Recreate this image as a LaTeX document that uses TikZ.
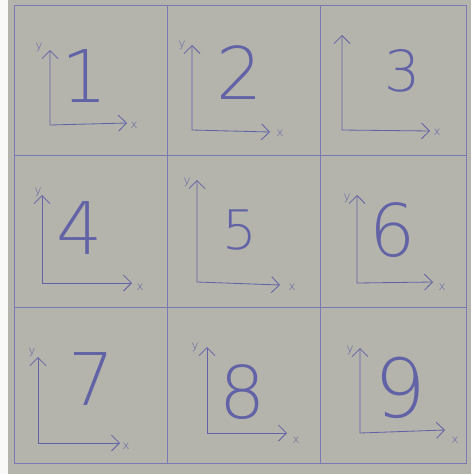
\documentclass[tikz,border=0pt]{standalone}
\usepackage{fontspec}
\usetikzlibrary{arrows.meta}
\newfontfamily\handfont{DejaVu Sans ExtraLight}
\definecolor{board}{RGB}{180,180,172}
\definecolor{ink}{RGB}{98,98,166}

\begin{document}
\begin{tikzpicture}[
    x=0.03cm, y=-0.03cm,
    gridline/.style={draw=ink!85, line width=0.6pt},
    axis/.style={{Straight Barb[length=2.4mm]}-{Straight Barb[length=2.4mm]}, draw=ink, line width=0.7pt},
    digit/.style={text=ink, font=\handfont\fontsize{62}{62}\selectfont, inner sep=0pt},
    lbl/.style={text=ink, font=\handfont\normalsize, inner sep=0pt}
]
    % board and grid
    \fill[white!92!board] (0,0) rectangle (471,474);
    \fill[board] (8,0) rectangle (471,474);
    \draw[gridline] (14,5) rectangle (466,463);
    \draw[gridline] (167,5) -- (167,463);
    \draw[gridline] (320,5) -- (320,463);
    \draw[gridline] (14,155) -- (466,155);
    \draw[gridline] (14,307) -- (466,307);

    % row 1
    \coordinate (o1) at (50,125);  \coordinate (ya1) at (50,50);  \coordinate (xa1) at (127,123);
    \coordinate (o2) at (192,130); \coordinate (ya2) at (192,45); \coordinate (xa2) at (270,132);
    \coordinate (o3) at (342,130); \coordinate (ya3) at (342,35); \coordinate (xa3) at (430,131);
    \draw[axis] (ya1) -- (o1) -- (xa1);
    \draw[axis] (ya2) -- (o2) -- (xa2);
    \draw[axis] (ya3) -- (o3) -- (xa3);
    \node[lbl] (ly1) at (39,47) {y};   \node[lbl] (lx1) at (134,125) {x};
    \node[lbl] (ly2) at (182,45) {y};  \node[lbl] (lx2) at (280,133) {x};
    \node[lbl] (lx3) at (437,132) {x};
    \node[digit] (n1) at (85,76) {1};
    \node[digit] (n2) at (240,73) {2};
    \node[digit, scale=0.78] (n3) at (403,71) {3};

    % row 2
    \coordinate (o4) at (42,283);  \coordinate (ya4) at (42,195);  \coordinate (xa4) at (132,283);
    \coordinate (o5) at (197,282); \coordinate (ya5) at (197,180); \coordinate (xa5) at (280,285);
    \coordinate (o6) at (357,283); \coordinate (ya6) at (357,195); \coordinate (xa6) at (433,282);
    \draw[axis] (ya4) -- (o4) -- (xa4);
    \draw[axis] (ya5) -- (o5) -- (xa5);
    \draw[axis] (ya6) -- (o6) -- (xa6);
    \node[lbl] (ly4) at (38,192) {y};  \node[lbl] (lx4) at (140,287) {x};
    \node[lbl] (ly5) at (187,182) {y}; \node[lbl] (lx5) at (292,287) {x};
    \node[lbl] (ly6) at (347,198) {y}; \node[lbl] (lx6) at (442,287) {x};
    \node[digit] (n4) at (80,228) {4};
    \node[digit, scale=0.75] (n5) at (240,230) {5};
    \node[digit] (n6) at (393,230) {6};

    % row 3
    \coordinate (o7) at (38,443);  \coordinate (ya7) at (38,357);  \coordinate (xa7) at (120,443);
    \coordinate (o8) at (207,433); \coordinate (ya8) at (207,347); \coordinate (xa8) at (287,433);
    \coordinate (o9) at (360,433); \coordinate (ya9) at (360,348); \coordinate (xa9) at (445,430);
    \draw[axis] (ya7) -- (o7) -- (xa7);
    \draw[axis] (ya8) -- (o8) -- (xa8);
    \draw[axis] (ya9) -- (o9) -- (xa9);
    \node[lbl] (ly7) at (32,352) {y};  \node[lbl] (lx7) at (126,446) {x};
    \node[lbl] (ly8) at (195,347) {y}; \node[lbl] (lx8) at (296,440) {x};
    \node[lbl] (ly9) at (350,350) {y}; \node[lbl] (lx9) at (455,440) {x};
    \node[digit] (n7) at (92,379) {7};
    \node[digit] (n8) at (243,392) {8};
    \node[digit, scale=1.12] (n9) at (400,388) {9};
\end{tikzpicture}
\end{document}
